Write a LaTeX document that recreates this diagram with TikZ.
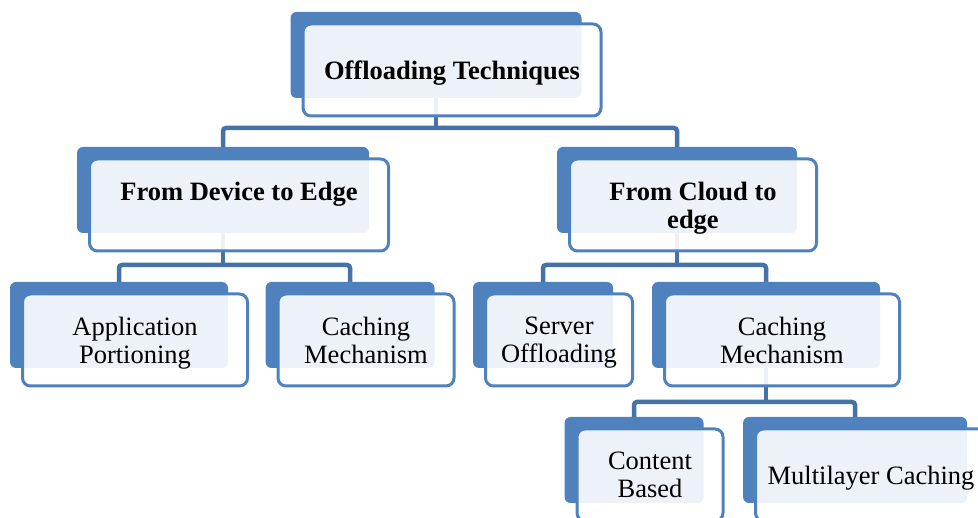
\documentclass[tikz,border=0pt]{standalone}
\usepackage{fontspec}
\setmainfont{Liberation Serif}
\definecolor{accent}{RGB}{79,129,189}
\definecolor{linkblue}{RGB}{69,114,167}
\tikzstyle{backbox} = [fill=accent, rounded corners=6pt, minimum height=86pt, inner sep=0pt, outer sep=0pt]
\tikzstyle{frontbox} = [draw=accent, line width=3pt, fill=white, fill opacity=0.9, text opacity=1, rounded corners=8pt, minimum height=92pt, inner sep=0pt, outer sep=0pt, text depth=0pt, align=center, font={\fontsize{26.5}{28}\selectfont}]
\tikzstyle{title} = [font={\fontsize{26.5}{28}\selectfont\bfseries}]
\tikzstyle{link} = [draw=linkblue, line width=4.5pt, rounded corners=3pt]

\begin{document}
\begin{tikzpicture}[x=1pt,y=-1pt]
    \clip (0,0) rectangle (978,518);
    % back plates
    \node [backbox, minimum width=291pt] (topB) at (436,55) {};
    \node [backbox, minimum width=292pt] (deviceB) at (223,190) {};
    \node [backbox, minimum width=240pt] (cloudB) at (677,190) {};
    \node [backbox, minimum width=218pt] (appB) at (119,325) {};
    \node [backbox, minimum width=169pt] (cacheLB) at (350,325) {};
    \node [backbox, minimum width=140pt] (serverB) at (543,325) {};
    \node [backbox, minimum width=228pt] (cacheRB) at (766,325) {};
    \node [backbox, minimum width=139pt] (contentB) at (634,460) {};
    \node [backbox, minimum width=224pt] (multiB) at (855,460) {};

    % connectors
    \coordinate (bar1) at (0,128);
    \coordinate (bar2) at (0,265);
    \coordinate (bar3) at (0,402);
    \draw [link] (topB.south) -- (topB.south |- bar1);
    \draw [link] (deviceB.north) -- (deviceB.north |- bar1) -- (cloudB.north |- bar1) -- (cloudB.north);
    \draw [link] (deviceB.south) -- (deviceB.south |- bar2);
    \draw [link] (appB.north) -- (appB.north |- bar2) -- (cacheLB.north |- bar2) -- (cacheLB.north);
    \draw [link] (cloudB.south) -- (cloudB.south |- bar2);
    \draw [link] (serverB.north) -- (serverB.north |- bar2) -- (cacheRB.north |- bar2) -- (cacheRB.north);
    \draw [link] (cacheRB.south) -- (cacheRB.south |- bar3);
    \draw [link] (contentB.north) -- (contentB.north |- bar3) -- (multiB.north |- bar3) -- (multiB.north);

    % front boxes
    \node [frontbox, title, minimum width=298pt] (topF) at ([shift={(16,15)}]topB.center) {Offloading Techniques};
    \node [frontbox, title, minimum width=299pt] (deviceF) at ([shift={(16,15)}]deviceB.center) {From Device to Edge\\\mbox{}};
    \node [frontbox, title, minimum width=247pt] (cloudF) at ([shift={(16,15)}]cloudB.center) {From Cloud to\\edge};
    \node [frontbox, minimum width=225pt] (appF) at ([shift={(16,15)}]appB.center) {Application\\Portioning};
    \node [frontbox, minimum width=176pt] (cacheLF) at ([shift={(16,15)}]cacheLB.center) {Caching\\Mechanism};
    \node [frontbox, minimum width=147pt] (serverF) at ([shift={(16,15)}]serverB.center) {Server\\Offloading};
    \node [frontbox, minimum width=235pt] (cacheRF) at ([shift={(16,15)}]cacheRB.center) {Caching\\Mechanism};
    \node [frontbox, minimum width=146pt] (contentF) at ([shift={(16,15)}]contentB.center) {Content\\Based};
    \node [frontbox, minimum width=231pt] (multiF) at ([shift={(16,15)}]multiB.center) {Multilayer Caching};
\end{tikzpicture}
\end{document}
